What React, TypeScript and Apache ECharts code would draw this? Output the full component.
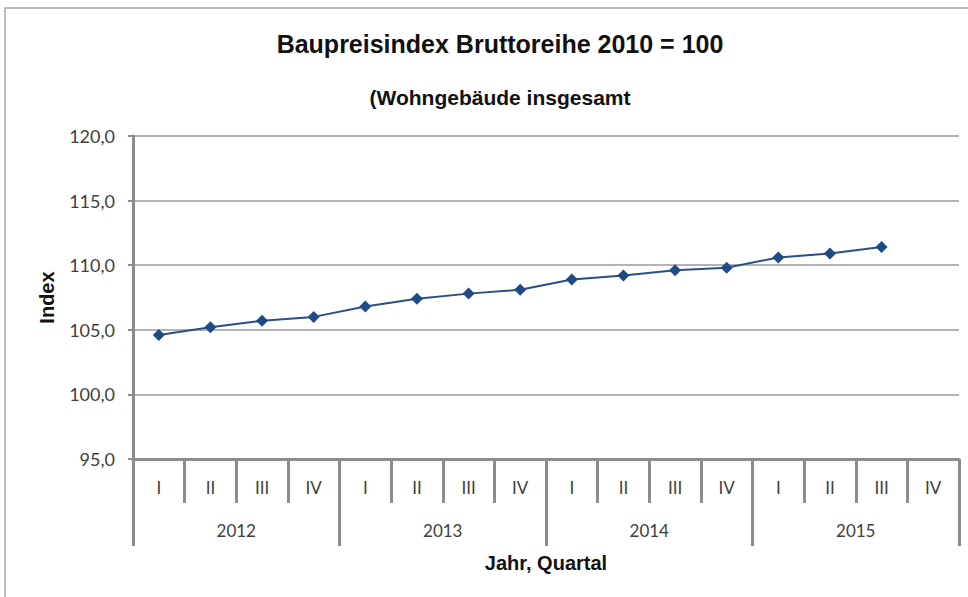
import React, { useEffect, useRef } from "react";
import * as echarts from "echarts";

const quarters = ["I", "II", "III", "IV", "I", "II", "III", "IV", "I", "II", "III", "IV", "I", "II", "III", "IV"];
const years = ["2012", "2013", "2014", "2015"];
const indexValues: (number | null)[] = [104.6, 105.2, 105.7, 106.0, 106.8, 107.4, 107.8, 108.1, 108.9, 109.2, 109.6, 109.8, 110.6, 110.9, 111.4, null];
const yTicks = { min: 95, max: 120, interval: 5 };

const titleText = "Baupreisindex Bruttoreihe 2010 = 100";
const subtitleText = "(Wohngebäude insgesamt";

export default function App() {
  const ref = useRef<HTMLDivElement>(null);
  useEffect(() => {
    if (!ref.current) return;
    const chart = echarts.init(ref.current, null, { renderer: "svg" });
    const axisGrey = "#8c8c8c";
    const labelFont = "Lato, 'Open Sans', sans-serif";
    const boldFont = "'Liberation Sans', Arial, sans-serif";
    chart.setOption({
      animation: false,
      backgroundColor: "#ffffff",
      graphic: [
        {
          type: "rect",
          shape: { x: 5, y: 8, width: 975, height: 600 },
          style: { fill: "none", stroke: "#a6a6a6", lineWidth: 1.5 },
          silent: true,
        },
      ],
      title: [
        {
          text: titleText,
          left: 495,
          top: 26,
          textAlign: "center",
          textStyle: { fontFamily: boldFont, fontSize: 25, fontWeight: "bold", color: "#111" },
        },
        {
          text: subtitleText,
          left: 495,
          top: 82,
          textAlign: "center",
          textStyle: { fontFamily: boldFont, fontSize: 21, fontWeight: "bold", color: "#111" },
        },
      ],
      grid: { left: 133, right: 9, top: 136, bottom: 138, containLabel: false },
      xAxis: [
        {
          type: "category",
          data: quarters,
          position: "bottom",
          boundaryGap: true,
          axisLine: { show: true, lineStyle: { color: axisGrey, width: 3 } },
          axisTick: { show: true, interval: 0, length: 44, lineStyle: { color: axisGrey, width: 3 } },
          axisLabel: { interval: 0, margin: 20, fontFamily: labelFont, fontSize: 17, color: "#404040" },
          splitLine: { show: false },
        },
        {
          type: "category",
          data: years,
          position: "bottom",
          boundaryGap: true,
          axisLine: { show: false },
          axisTick: { show: true, interval: 0, length: 87, lineStyle: { color: axisGrey, width: 3 } },
          axisLabel: { interval: 0, margin: 63, fontFamily: labelFont, fontSize: 17, color: "#404040" },
          splitLine: { show: false },
          name: "Jahr, Quartal",
          nameLocation: "middle",
          nameGap: 94,
          nameTextStyle: { fontFamily: boldFont, fontSize: 20, fontWeight: "bold", color: "#111" },
        },
      ],
      yAxis: {
        type: "value",
        min: yTicks.min,
        max: yTicks.max,
        interval: yTicks.interval,
        name: "Index",
        nameLocation: "middle",
        nameGap: 76,
        nameTextStyle: { fontFamily: boldFont, fontSize: 20, fontWeight: "bold", color: "#111" },
        axisLine: { show: true, lineStyle: { color: axisGrey, width: 3 } },
        axisTick: { show: true, length: 5, lineStyle: { color: axisGrey, width: 2 } },
        axisLabel: {
          margin: 18,
          fontFamily: labelFont,
          fontSize: 18,
          color: "#404040",
          formatter: (v: number) => v.toFixed(1).replace(".", ","),
        },
        splitLine: { show: true, lineStyle: { color: "#b3b3b3", width: 2 } },
      },
      series: [
        {
          type: "line",
          xAxisIndex: 0,
          data: indexValues,
          symbol: "diamond",
          symbolSize: 12,
          connectNulls: false,
          lineStyle: { color: "#2a4f86", width: 2 },
          itemStyle: { color: "#1f4a85" },
        },
      ],
    });
    return () => chart.dispose();
  }, []);
  return <div ref={ref} style={{ width: 968, height: 597, position: "absolute", left: 0, top: 0 }} />;
}
